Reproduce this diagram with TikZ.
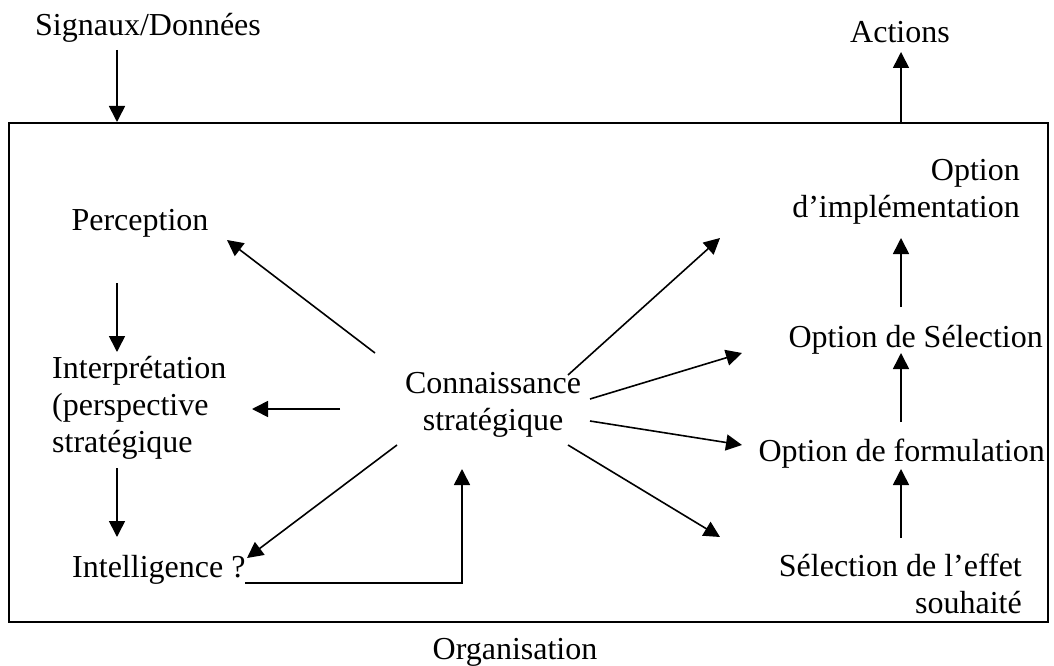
\documentclass[tikz,border=0pt]{standalone}
\usepackage{fontspec}
\setmainfont{Liberation Serif}
\usetikzlibrary{arrows.meta}
\begin{document}
\begin{tikzpicture}[x=1pt,y=-1pt,
  lbl/.style={font=\fontsize{32}{37}\selectfont, inner sep=0pt},
  arr/.style={-{Triangle[length=16pt,width=16pt]}, line width=1.6pt},
  frame/.style={draw, line width=2pt, inner sep=0pt}]
\useasboundingbox (0,0) rectangle (1054,666);
% frame
\node[frame, minimum width=1039pt, minimum height=499pt, anchor=north west] (org) at (8,122) {};
% texts (base anchor of multi-line nodes = last line baseline)
\node[lbl, anchor=base] (sig) at (148,36) {Signaux/Données};
\node[lbl, anchor=base] (act) at (900,43) {Actions};
\node[lbl, anchor=base] (perc) at (140,230) {Perception};
\node[lbl, anchor=base west, align=left] (interp) at (52,452) {Interprétation\\(perspective\\stratégique};
\node[lbl, anchor=base west] (intel) at (72,577) {Intelligence ?};
\node[lbl, anchor=base, align=center] (conn) at (493,430) {Connaissance\\stratégique};
\node[lbl, anchor=base east, align=right] (impl) at (1020,217) {Option\\d’implémentation};
\node[lbl, anchor=base east] (sel) at (1043,347) {Option de Sélection};
\node[lbl, anchor=base east] (form) at (1045,461) {Option de formulation};
\node[lbl, anchor=base east, align=right] (eff) at (1022,613) {Sélection de l’effet\\souhaité};
\node[lbl, anchor=base] (orgl) at (515,659) {Organisation};
% connector end points
\coordinate (sigE) at (117,50);
\coordinate (actE) at (901,52);
\coordinate (percA) at (227,240);
\coordinate (connP) at (375,353);
\coordinate (percB) at (117,283);
\coordinate (interpT) at (117,352);
\coordinate (connI) at (340,409);
\coordinate (interpR) at (252,409);
\coordinate (interpB) at (117,468);
\coordinate (intelT) at (117,537);
\coordinate (connL) at (397,445);
\coordinate (intelR) at (247,558);
\coordinate (intelB) at (245,583);
\coordinate (connB) at (462,469);
\coordinate (connU) at (568,375);
\coordinate (implA) at (720,238);
\coordinate (connS) at (590,399);
\coordinate (selA) at (742,353);
\coordinate (connF) at (590,421);
\coordinate (formA) at (742,445);
\coordinate (connD) at (568,445);
\coordinate (effA) at (720,537);
\coordinate (effT) at (901,538);
\coordinate (formB) at (901,469);
\coordinate (formT) at (901,422);
\coordinate (selB) at (901,353);
\coordinate (selT) at (901,307);
\coordinate (implB) at (901,238);
% connectors
\draw[arr] (sigE) -- (sigE |- org.north);
\draw[arr] (actE |- org.north) -- (actE);
\draw[arr] (connP) -- (percA);
\draw[arr] (percB) -- (interpT);
\draw[arr] (connI) -- (interpR);
\draw[arr] (interpB) -- (intelT);
\draw[arr] (connL) -- (intelR);
\draw[arr] (intelB) -| (connB);
\draw[arr] (connU) -- (implA);
\draw[arr] (connS) -- (selA);
\draw[arr] (connF) -- (formA);
\draw[arr] (connD) -- (effA);
\draw[arr] (effT) -- (formB);
\draw[arr] (formT) -- (selB);
\draw[arr] (selT) -- (implB);
\end{tikzpicture}
\end{document}
